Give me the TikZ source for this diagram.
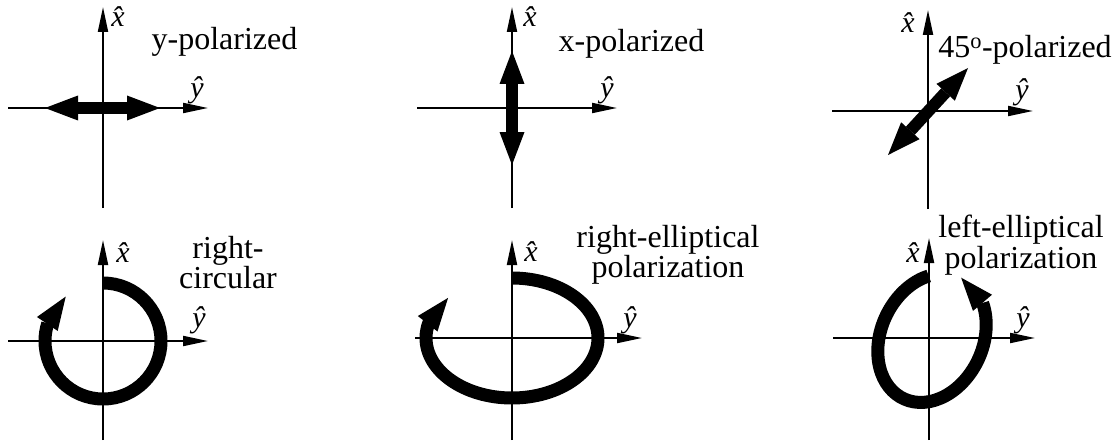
\documentclass[tikz,border=0pt]{standalone}
\usepackage{fontspec}
\setmainfont{Liberation Serif}
\usetikzlibrary{arrows.meta, bending}

\begin{document}
\begin{tikzpicture}[x=1pt, y=1pt,
  axis/.style={line width=2pt, -{Triangle[length=25pt, width=10pt]}},
  linpol/.style={line width=12pt, {Triangle[length=33pt, width=25pt, line width=0pt]}-{Triangle[length=33pt, width=25pt, line width=0pt]}},
  rotpol/.style={line width=13pt, -{Triangle[length=33pt, width=25pt, line width=0pt]}},
  unitlbl/.style={font=\fontsize{30}{30}\selectfont\itshape, inner sep=0pt},
  polname/.style={font=\fontsize{32}{30.5}\selectfont, align=center, inner sep=0pt}
]
  \useasboundingbox (0,0) rectangle (1115,440);

  % origins, top row linear, bottom row circular / elliptical
  \coordinate (o1) at (103,332);
  \coordinate (o2) at (512,332);
  \coordinate (o3) at (928,329);
  \coordinate (o4) at (103,99);
  \coordinate (o5) at (512,102);
  \coordinate (o6) at (929,102);

  % y-polarized
  \begin{scope}[shift={(o1)}]
    \draw[axis] (-95,0) -- (105,0);
    \draw[axis] (0,-100) -- (0,101);
    \draw[linpol] (-58,0) -- (57,0);
  \end{scope}
  \node[unitlbl] (xhat1) at (118,423) {\^{x}};
  \node[unitlbl] (yhat1) at (197,350) {\^{y}};
  \node[polname, anchor=base] (lab1) at (224.5,390) {y-polarized};

  % x-polarized
  \begin{scope}[shift={(o2)}]
    \draw[axis] (-95,0) -- (105,0);
    \draw[axis] (0,-100) -- (0,101);
    \draw[linpol] (0,-57) -- (0,57);
  \end{scope}
  \node[unitlbl] (xhat2) at (530,423) {\^{x}};
  \node[unitlbl] (yhat2) at (607,350) {\^{y}};
  \node[polname, anchor=base] (lab2) at (631.5,388) {x-polarized};

  % 45 degrees
  \begin{scope}[shift={(o3)}]
    \draw[axis] (-96,0) -- (105,0);
    \draw[axis] (0,-98) -- (0,101);
    \draw[linpol] (-40,-44) -- (40,43);
  \end{scope}
  \node[unitlbl] (xhat3) at (908,417) {\^{x}};
  \node[unitlbl] (yhat3) at (1022,348) {\^{y}};
  \node[polname, anchor=base] (lab3) at (1025,382) {45\textsuperscript{o}-polarized};

  % right-circular
  \begin{scope}[shift={(o4)}]
    \draw[axis] (-95,0) -- (105,0);
    \draw[axis] (0,-99) -- (0,101);
    \draw[rotpol] (0,58) arc[start angle=90, end angle=-230, radius=58];
  \end{scope}
  \node[unitlbl] (xhat4) at (123,187) {\^{x}};
  \node[unitlbl] (yhat4) at (199,120) {\^{y}};
  \node[polname, anchor=north] (lab4) at (228,204) {right-\\circular};

  % right-elliptical
  \begin{scope}[shift={(o5)}]
    \draw[axis] (-97,0) -- (130,0);
    \draw[axis] (0,-102) -- (0,98);
    \draw[rotpol] (0,60) arc[start angle=90, end angle=-222, x radius=86, y radius=60];
  \end{scope}
  \node[unitlbl] (xhat5) at (531,188) {\^{x}};
  \node[unitlbl] (yhat5) at (630,120) {\^{y}};
  \node[polname, anchor=north] (lab5) at (668,215) {right-elliptical\\polarization};

  % left-elliptical
  \begin{scope}[shift={(o6)}]
    \draw[axis] (-96,0) -- (106,0);
    \draw[axis] (0,-102) -- (0,100);
    \begin{scope}[shift={(3,0)}, rotate=65]
      \draw[rotpol] (35:67 and 51) arc[start angle=35, end angle=359, x radius=67, y radius=51];
    \end{scope}
  \end{scope}
  \node[unitlbl] (xhat6) at (913,187) {\^{x}};
  \node[unitlbl] (yhat6) at (1023,120) {\^{y}};
  \node[polname, anchor=north] (lab6) at (1021,225) {left-elliptical\\polarization};
\end{tikzpicture}
\end{document}
